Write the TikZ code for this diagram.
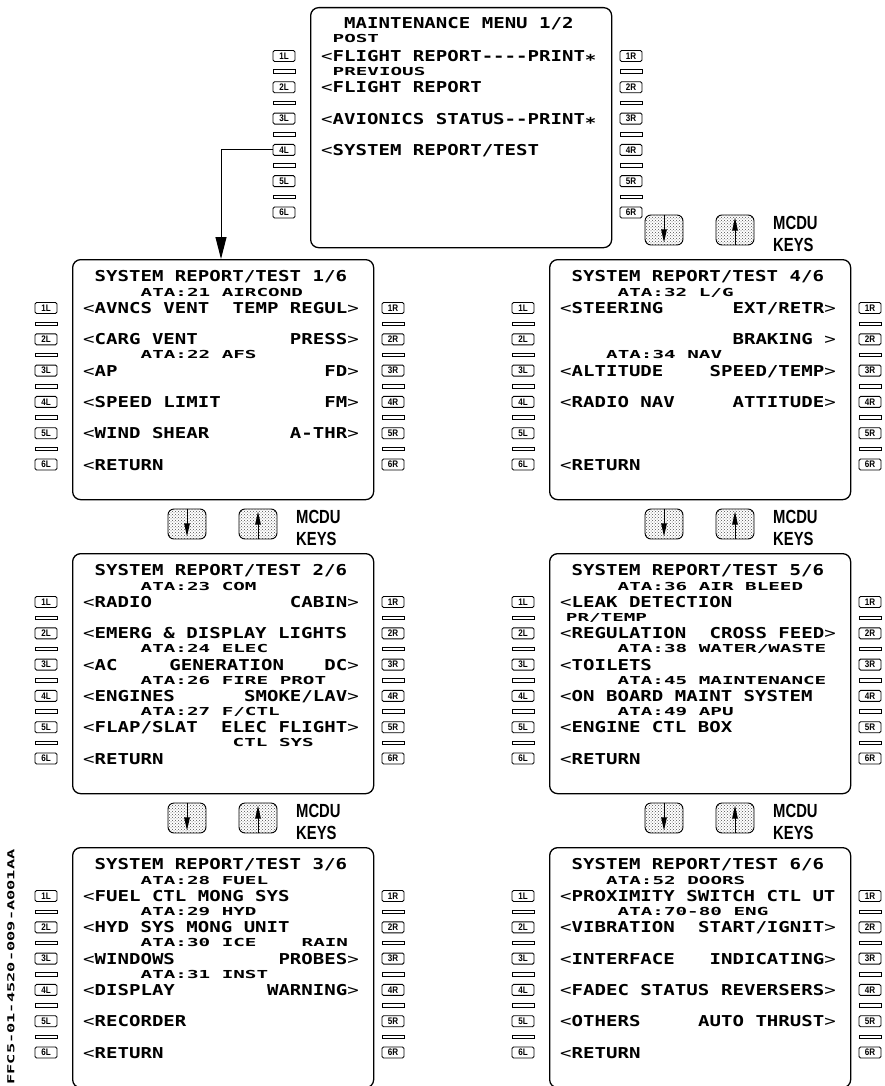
\documentclass[tikz,border=0pt]{standalone}
\usepackage{fontspec}
\usetikzlibrary{arrows.meta,patterns}
\newfontfamily\mcdubig[FakeStretch=1.27]{DejaVu Sans Mono}
\newfontfamily\mcdusmall[FakeStretch=1.75]{DejaVu Sans Mono}
\newfontfamily\docfont[FakeStretch=1.77]{DejaVu Sans Mono}
\newfontfamily\keyfont[FakeStretch=0.78]{Liberation Sans}
\newfontfamily\lskfont[FakeStretch=0.85]{Liberation Sans}

% row positions inside one screen (local coordinates, y downwards)
\newcommand{\rowy}[1]{49+(#1-1)*31.3}
\newcommand{\lsk}{{\mdseries<}}
\newcommand{\rsk}{{\mdseries>}}
% #1 name, #2 row, #3 text
\newcommand{\lline}[3]{\node[big,anchor=base west] (#1) at (11,{\rowy{#2}+5.5}) {\lsk#3};}
\newcommand{\rline}[3]{\node[big,anchor=base east] (#1) at (287,{\rowy{#2}+5.5}) {#3\rsk};}
% #1 name, #2 column, #3 row, #4 text
\newcommand{\ata}[4]{\node[small,anchor=base west] (#1) at ({11+#2*11.5},{\rowy{#3}+4}) {#4};}
\newcommand{\midtxt}[4]{\node[big,anchor=base west] (#1) at ({11+#2*11.5},{\rowy{#3}+5.5}) {#4};}
% screen frame and title
\newcommand{\mcduscreen}[2]{%
  \node[screen,anchor=north west] (box) at (0,0) {};
  \node[big,anchor=base west] (title) at ({11+#1*11.5},22) {#2};
}
% line select keys on both sides
\newcommand{\keystrips}{%
  \foreach \k in {1,...,6} {
    \node[lskey] (L\k) at (-26,{\rowy{\k}}) {\k L};
    \node[lskey] (R\k) at (321,{\rowy{\k}}) {\k R};
  }
  \foreach \k in {1,...,5} {
    \node[bar] (Lbar\k) at (-26,{\rowy{\k+0.5}}) {};
    \node[bar] (Rbar\k) at (321,{\rowy{\k+0.5}}) {};
  }
}
% slew keys above a screen
\newcommand{\slewkeys}{%
  \node[pagekey] (down) at (115,-29) {};
  \node[pagekey] (up) at (186,-29) {};
  \draw[keyarrow] (down.north) -- (down.south);
  \draw[keyarrow] (up.south) -- (up.north);
  \node[keytext] (mcdu) at (224,-30) {MCDU};
  \node[keytext] (keys) at (224,-8) {KEYS};
}

\begin{document}
\begin{tikzpicture}[x=1pt,y=-1pt,
  big/.style={font=\mcdubig\bfseries\fontsize{15}{15}\selectfont,inner sep=0pt},
  small/.style={font=\mcdusmall\bfseries\fontsize{11}{11}\selectfont,inner sep=0pt},
  screen/.style={draw,line width=1.3pt,rounded corners=8pt,minimum width=301pt,minimum height=240pt},
  lskey/.style={draw,line width=0.9pt,rounded corners=1.5pt,minimum width=22pt,minimum height=11pt,inner sep=0pt,font=\lskfont\bfseries\fontsize{9.5}{9.5}\selectfont},
  bar/.style={draw,line width=0.8pt,minimum width=22pt,minimum height=3.5pt,inner sep=0pt},
  pagekey/.style={draw,line width=0.9pt,rounded corners=6pt,minimum width=38pt,minimum height=30pt,pattern=crosshatch dots,pattern color=black!70},
  keyarrow/.style={-{Triangle[length=13pt,width=5.5pt]},line width=0.9pt,shorten >=3pt},
  keytext/.style={anchor=base west,inner sep=0pt,font=\keyfont\bfseries\fontsize{19}{19}\selectfont},
  flow/.style={-{Triangle[length=22pt,width=11pt]},line width=1pt},
]
\useasboundingbox (0,0) rectangle (884,1086);

% maintenance menu
\begin{scope}[shift={(310,7)},name prefix=m-]
  \mcduscreen{2}{MAINTENANCE MENU 1/2}
  \keystrips
  \ata{post}{1}{0.45}{POST}
  \lline{l1}{1}{FLIGHT REPORT----PRINT\raisebox{-4pt}{*}}
  \ata{prev}{1}{1.5}{PREVIOUS}
  \lline{l2}{2}{FLIGHT REPORT}
  \lline{l3}{3}{AVIONICS STATUS--PRINT\raisebox{-4pt}{*}}
  \lline{l4}{4}{SYSTEM REPORT/TEST}
\end{scope}
\begin{scope}[shift={(549,259)},name prefix=top-]
  \slewkeys
\end{scope}

% page 1/6
\begin{scope}[shift={(72,259)},name prefix=s1-]
  \mcduscreen{1}{SYSTEM REPORT/TEST 1/6}
  \keystrips
  \ata{a21}{5}{0.5}{ATA:21 AIRCOND}
  \lline{l1}{1}{AVNCS VENT}      \rline{r1}{1}{TEMP REGUL}
  \lline{l2}{2}{CARG VENT}       \rline{r2}{2}{PRESS}
  \ata{a22}{5}{2.5}{ATA:22 AFS}
  \lline{l3}{3}{AP}              \rline{r3}{3}{FD}
  \lline{l4}{4}{SPEED LIMIT}     \rline{r4}{4}{FM}
  \lline{l5}{5}{WIND SHEAR}      \rline{r5}{5}{A-THR}
  \lline{l6}{6}{RETURN}
\end{scope}

% page 2/6
\begin{scope}[shift={(72,553)},name prefix=s2-]
  \mcduscreen{1}{SYSTEM REPORT/TEST 2/6}
  \keystrips
  \slewkeys
  \ata{a23}{5}{0.5}{ATA:23 COM}
  \lline{l1}{1}{RADIO}           \rline{r1}{1}{CABIN}
  \lline{l2}{2}{EMERG \& DISPLAY LIGHTS}
  \ata{a24}{5}{2.5}{ATA:24 ELEC}
  \lline{l3}{3}{AC}              \rline{r3}{3}{DC}
  \midtxt{gen}{7.5}{3}{GENERATION}
  \ata{a26}{5}{3.5}{ATA:26 FIRE PROT}
  \lline{l4}{4}{ENGINES}         \rline{r4}{4}{SMOKE/LAV}
  \ata{a27}{5}{4.5}{ATA:27 F/CTL}
  \lline{l5}{5}{FLAP/SLAT}       \rline{r5}{5}{ELEC FLIGHT}
  \ata{ctl}{13}{5.5}{CTL SYS}
  \lline{l6}{6}{RETURN}
\end{scope}

% page 3/6
\begin{scope}[shift={(72,847)},name prefix=s3-]
  \mcduscreen{1}{SYSTEM REPORT/TEST 3/6}
  \keystrips
  \slewkeys
  \ata{a28}{5}{0.5}{ATA:28 FUEL}
  \lline{l1}{1}{FUEL CTL MONG SYS}
  \ata{a29}{5}{1.5}{ATA:29 HYD}
  \lline{l2}{2}{HYD SYS MONG UNIT}
  \ata{a30}{5}{2.5}{ATA:30 ICE}
  \ata{rain}{19}{2.5}{RAIN}
  \lline{l3}{3}{WINDOWS}         \rline{r3}{3}{PROBES}
  \ata{a31}{5}{3.5}{ATA:31 INST}
  \lline{l4}{4}{DISPLAY}         \rline{r4}{4}{WARNING}
  \lline{l5}{5}{RECORDER}
  \lline{l6}{6}{RETURN}
\end{scope}

% page 4/6
\begin{scope}[shift={(549,259)},name prefix=s4-]
  \mcduscreen{1}{SYSTEM REPORT/TEST 4/6}
  \keystrips
  \ata{a32}{5}{0.5}{ATA:32 L/G}
  \lline{l1}{1}{STEERING}        \rline{r1}{1}{EXT/RETR}
  \rline{r2}{2}{BRAKING }
  \ata{a34}{4}{2.5}{ATA:34 NAV}
  \lline{l3}{3}{ALTITUDE}        \rline{r3}{3}{SPEED/TEMP}
  \lline{l4}{4}{RADIO NAV}       \rline{r4}{4}{ATTITUDE}
  \lline{l6}{6}{RETURN}
\end{scope}

% page 5/6
\begin{scope}[shift={(549,553)},name prefix=s5-]
  \mcduscreen{1}{SYSTEM REPORT/TEST 5/6}
  \keystrips
  \slewkeys
  \ata{a36}{5}{0.5}{ATA:36 AIR BLEED}
  \lline{l1}{1}{LEAK DETECTION}
  \ata{prt}{0.5}{1.5}{PR/TEMP}
  \lline{l2}{2}{REGULATION}      \rline{r2}{2}{CROSS FEED}
  \ata{a38}{5}{2.5}{ATA:38 WATER/WASTE}
  \lline{l3}{3}{TOILETS}
  \ata{a45}{5}{3.5}{ATA:45 MAINTENANCE}
  \lline{l4}{4}{ON BOARD MAINT SYSTEM}
  \ata{a49}{5}{4.5}{ATA:49 APU}
  \lline{l5}{5}{ENGINE CTL BOX}
  \lline{l6}{6}{RETURN}
\end{scope}

% page 6/6
\begin{scope}[shift={(549,847)},name prefix=s6-]
  \mcduscreen{1}{SYSTEM REPORT/TEST 6/6}
  \keystrips
  \slewkeys
  \ata{a52}{4}{0.5}{ATA:52 DOORS}
  \lline{l1}{1}{PROXIMITY SWITCH CTL UT}
  \ata{a70}{5}{1.5}{ATA:70-80 ENG}
  \lline{l2}{2}{VIBRATION}       \rline{r2}{2}{START/IGNIT}
  \lline{l3}{3}{INTERFACE}       \rline{r3}{3}{INDICATING}
  \lline{l4}{4}{FADEC STATUS}    \rline{r4}{4}{REVERSERS}
  \lline{l5}{5}{OTHERS}          \rline{r5}{5}{AUTO THRUST}
  \lline{l6}{6}{RETURN}
\end{scope}

% 4L of the menu calls page 1/6
\coordinate (drop) at (221,259);
\draw[flow] (m-L4.west) -| (drop);

\node[font=\docfont\bfseries\fontsize{9.6}{9.6}\selectfont,inner sep=0pt,rotate=90] (docid) at (11,967) {FFC5-01-4520-009-A001AA};
\end{tikzpicture}
\end{document}
